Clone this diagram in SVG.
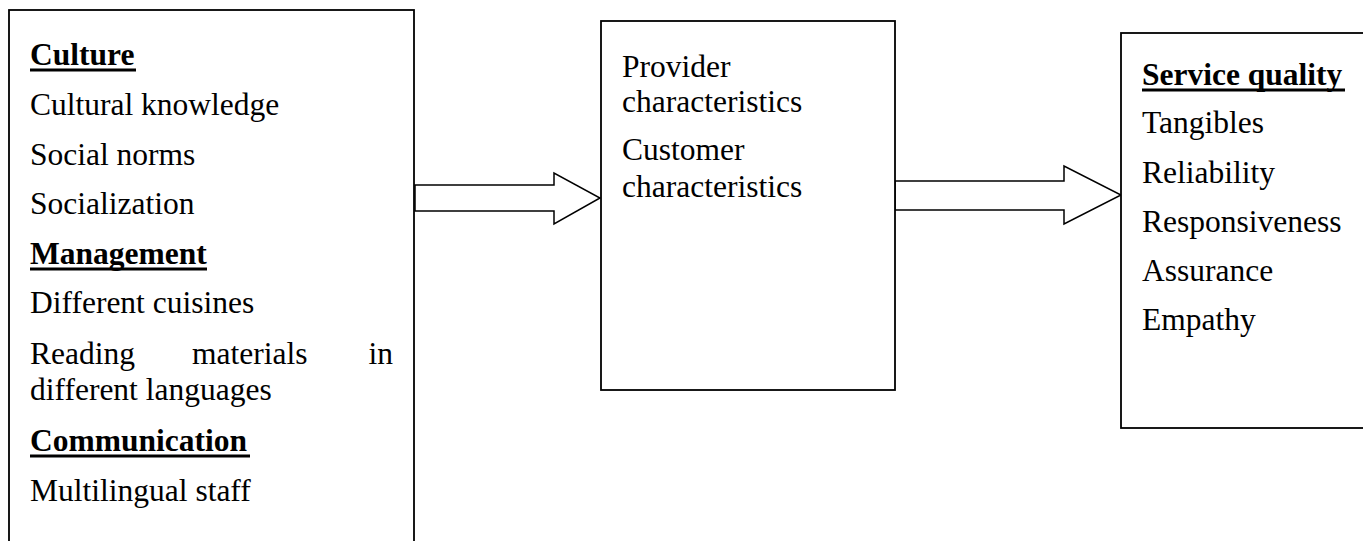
<svg xmlns="http://www.w3.org/2000/svg" width="1363" height="541" viewBox="0 0 1363 541">
  <style>
    .box { fill: #fff; stroke: #000; stroke-width: 1.8; }
    .arrow { fill: #fff; stroke: #000; stroke-width: 1.5; stroke-linejoin: miter; }
    .t { font-family: "Liberation Serif", "Times New Roman", serif; font-size: 31.5px; fill: #000; }
    .b { font-weight: bold; }
    .ul { stroke: #000; stroke-width: 3; }
  </style>
  <rect width="1363" height="541" fill="#fff"/>

  <g id="connectors">
    <polygon class="arrow" points="415,185 554,185 554,173 600,198 554,224 554,211 415,211"/>
    <polygon class="arrow" points="895,181 1064,181 1064,166 1121,195 1064,224 1064,210 895,210"/>
  </g>

  <g id="node-left">
    <rect class="box" x="9" y="10" width="405" height="560"/>
    <text class="t b" x="30" y="65">Culture</text>
    <line class="ul" x1="30" y1="70" x2="136" y2="70"/>
    <text class="t" x="30" y="115">Cultural knowledge</text>
    <text class="t" x="30" y="165">Social norms</text>
    <text class="t" x="30" y="214">Socialization</text>
    <text class="t b" x="30" y="264">Management</text>
    <line class="ul" x1="30" y1="269" x2="207" y2="269"/>
    <text class="t" x="30" y="313">Different cuisines</text>
    <text class="t" x="30" y="364">Reading</text>
    <text class="t" x="192" y="364">materials</text>
    <text class="t" x="393" y="364" text-anchor="end">in</text>
    <text class="t" x="30" y="400">different languages</text>
    <text class="t b" x="30" y="451">Communication</text>
    <line class="ul" x1="30" y1="456" x2="250" y2="456"/>
    <text class="t" x="30" y="501">Multilingual staff</text>
  </g>

  <g id="node-middle">
    <rect class="box" x="601" y="21" width="294" height="369"/>
    <text class="t" x="622" y="77">Provider</text>
    <text class="t" x="622" y="112">characteristics</text>
    <text class="t" x="622" y="160">Customer</text>
    <text class="t" x="622" y="197">characteristics</text>
  </g>

  <g id="node-right">
    <rect class="box" x="1121" y="33" width="260" height="395"/>
    <text class="t b" x="1142" y="85">Service quality</text>
    <line class="ul" x1="1142" y1="90" x2="1345" y2="90"/>
    <text class="t" x="1142" y="133">Tangibles</text>
    <text class="t" x="1142" y="183">Reliability</text>
    <text class="t" x="1142" y="232">Responsiveness</text>
    <text class="t" x="1142" y="281">Assurance</text>
    <text class="t" x="1142" y="330">Empathy</text>
  </g>
</svg>
